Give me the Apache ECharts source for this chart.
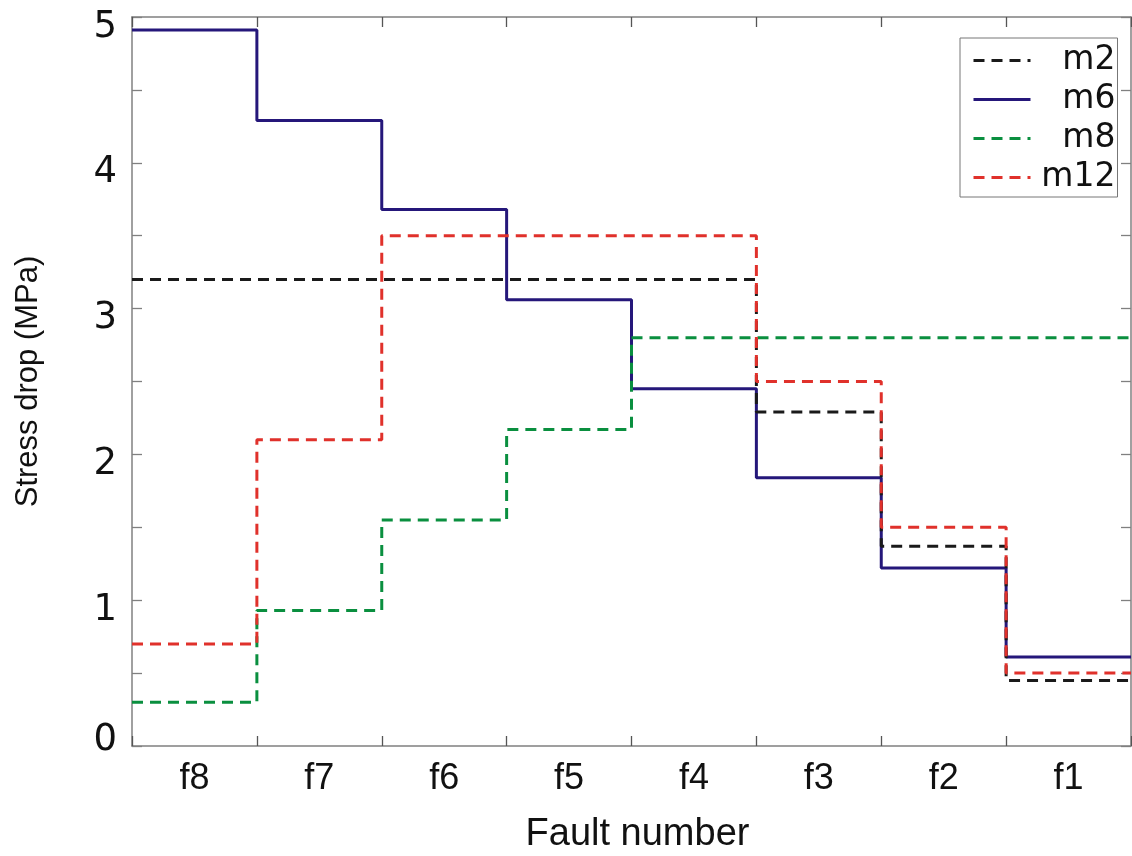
<!DOCTYPE html>
<html>
<head>
<meta charset="utf-8">
<script src="https://cdn.jsdelivr.net/npm/echarts@6/dist/echarts.min.js"></script>
<style>html,body{margin:0;padding:0;background:#fff;}#chart{width:1132px;height:856px;}</style>
</head>
<body>
<div id="chart"></div>
<script>
// Categories (fault numbers, left to right)
var categories = ['f8', 'f7', 'f6', 'f5', 'f4', 'f3', 'f2', 'f1'];
// Stress drop (MPa) per fault, per model
var m2  = [3.20, 3.20, 3.20, 3.20, 3.20, 2.29, 1.37, 0.45];
var m6  = [4.91, 4.29, 3.68, 3.06, 2.45, 1.84, 1.22, 0.61];
var m8  = [0.30, 0.93, 1.55, 2.17, 2.80, 2.80, 2.80, 2.80];
var m12 = [0.70, 2.10, 3.50, 3.50, 3.50, 2.50, 1.50, 0.50];
var yTicks = [0, 1, 2, 3, 4, 5];

function stairs(vals) {
  var d = vals.map(function (v, i) { return [i, v]; });
  d.push([vals.length, vals[vals.length - 1]]);
  return d;
}

var chart = echarts.init(document.getElementById('chart'));
var axisGray = '#808080';
var tickY = { show: true, inside: true, length: 10, lineStyle: { color: axisGray, width: 1.3 } };
var tickX = { show: true, inside: true, length: 10, lineStyle: { color: '#555', width: 1.3 } };
var lineX = { show: true, onZero: false, lineStyle: { color: axisGray, width: 1.5 } };

var option = {
  animation: false,
  backgroundColor: '#fff',
  grid: { left: 132, right: 1, top: 17, bottom: 110, containLabel: false, outerBoundsMode: 'none' },
  legend: {
    data: ['m2', 'm6', 'm8', 'm12'],
    orient: 'vertical',
    left: 960, top: 38,
    itemWidth: 57, itemHeight: 14, itemGap: 6,
    padding: [6, 2, 3, 12],
    backgroundColor: '#fff',
    borderColor: '#777', borderWidth: 1,
    itemStyle: { opacity: 0, borderWidth: 0 },
    lineStyle: { width: 3 },
    formatter: function (n) { return '{a|' + n + '}'; },
    textStyle: {
      fontFamily: 'DejaVu Sans', fontSize: 33, color: '#111',
      rich: { a: { width: 80, align: 'right', fontFamily: 'DejaVu Sans', fontSize: 33, lineHeight: 30, color: '#111' } }
    }
  },
  xAxis: [
    {
      type: 'value', min: 0, max: categories.length, interval: 1, position: 'bottom',
      axisLine: lineX, axisTick: tickX, axisLabel: { show: false }, splitLine: { show: false }
    },
    {
      type: 'value', min: 0, max: categories.length, interval: 1, position: 'top',
      axisLine: lineX, axisTick: tickX, axisLabel: { show: false }, splitLine: { show: false }
    },
    {
      type: 'category', data: categories, position: 'bottom', boundaryGap: true,
      axisLine: { show: false, onZero: false }, axisTick: { show: false }, splitLine: { show: false },
      axisLabel: { fontFamily: 'Liberation Sans', fontSize: 36, color: '#111', margin: 15 },
      name: 'Fault number', nameLocation: 'middle', nameGap: 70,
      nameTextStyle: { fontFamily: 'Liberation Sans', fontSize: 38, color: '#111', padding: [0, 0, 0, 12] }
    }
  ],
  yAxis: [
    {
      type: 'value', min: 0, max: 5, interval: 0.5, position: 'left',
      axisLine: lineX, axisTick: tickY,
      splitLine: { show: false },
      axisLabel: {
        margin: 15, color: '#111', fontFamily: 'DejaVu Sans', fontSize: 37,
        formatter: function (v) {
          if (yTicks.indexOf(v) < 0) return '';
          return v === 0 ? '{z|0}' : '{n|' + v + '}';
        },
        rich: {
          n: { fontFamily: 'DejaVu Sans', fontSize: 37, color: '#111', padding: [20, 0, 0, 0] },
          z: { fontFamily: 'DejaVu Sans', fontSize: 37, color: '#111', padding: [0, 0, 12, 0] }
        }
      },
      name: 'Stress drop (MPa)', nameLocation: 'middle', nameGap: 88, nameRotate: 90,
      nameTextStyle: { fontFamily: 'Liberation Sans', fontSize: 31, color: '#111' }
    },
    {
      type: 'value', min: 0, max: 5, interval: 0.5, position: 'right',
      axisLine: lineX, axisTick: tickY, axisLabel: { show: false }, splitLine: { show: false }
    }
  ],
  series: [
    { name: 'm6', type: 'line', step: 'end', xAxisIndex: 0, yAxisIndex: 0, symbol: 'none', data: stairs(m6),
      color: '#25177a', lineStyle: { color: '#25177a', width: 3, type: 'solid' } },
    { name: 'm2', type: 'line', step: 'end', xAxisIndex: 0, yAxisIndex: 0, symbol: 'none', data: stairs(m2),
      color: '#1a1a1a', lineStyle: { color: '#1a1a1a', width: 3, type: [11, 7] } },
    { name: 'm8', type: 'line', step: 'end', xAxisIndex: 0, yAxisIndex: 0, symbol: 'none', data: stairs(m8),
      color: '#0a8f3f', lineStyle: { color: '#0a8f3f', width: 3, type: [11, 7] } },
    { name: 'm12', type: 'line', step: 'end', xAxisIndex: 0, yAxisIndex: 0, symbol: 'none', data: stairs(m12),
      color: '#e0312b', lineStyle: { color: '#e0312b', width: 3, type: [11, 7] } }
  ]
};
chart.setOption(option);
</script>
</body>
</html>
